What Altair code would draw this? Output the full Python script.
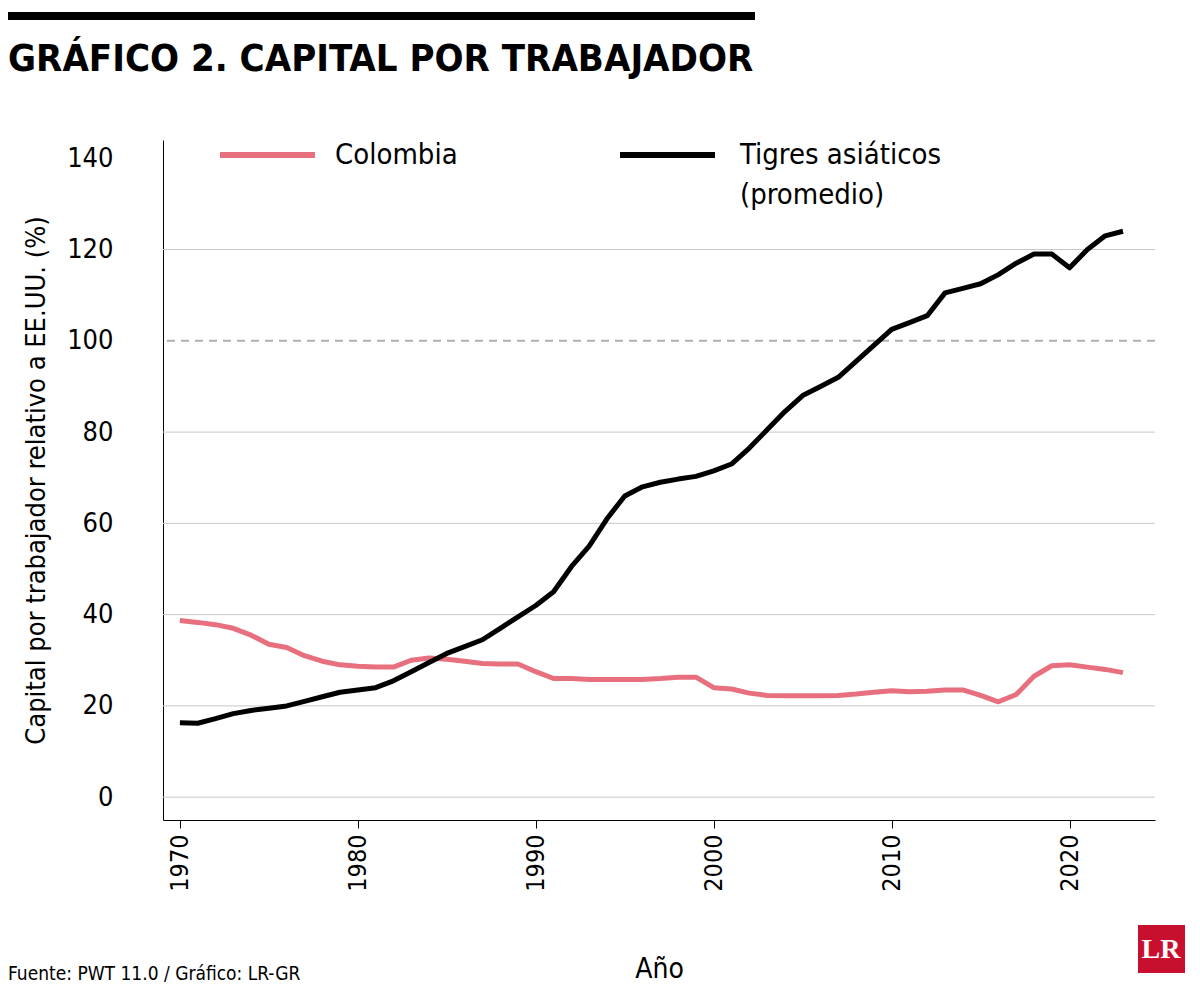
import altair as alt
import pandas as pd

years = list(range(1970, 2024))
tigres = [16.3, 16.2, 17.2, 18.3, 19.0, 19.5, 20.0, 21.0, 22.0, 23.0,
          23.5, 24.0, 25.5, 27.5, 29.5, 31.5, 33.0, 34.5, 37.0, 39.5,
          42.0, 45.0, 50.5, 55.0, 61.0, 66.0, 68.0, 69.0, 69.7, 70.3,
          71.5, 73.0, 76.5, 80.5, 84.5, 88.0, 90.0, 92.0, 95.5, 99.0,
          102.5, 104.0, 105.5, 110.5, 111.5, 112.5, 114.5, 117.0, 119.0, 119.0,
          116.0, 120.0, 123.0, 124.0]
colombia = [38.7, 38.3, 37.8, 37.0, 35.5, 33.5, 32.8, 31.0, 29.8, 29.0,
            28.7, 28.5, 28.5, 30.0, 30.5, 30.2, 29.8, 29.3, 29.2, 29.2,
            27.5, 26.0, 26.0, 25.8, 25.8, 25.8, 25.8, 26.0, 26.3, 26.3,
            24.0, 23.7, 22.8, 22.3, 22.2, 22.2, 22.2, 22.3, 22.6, 23.0,
            23.3, 23.1, 23.2, 23.5, 23.5, 22.3, 20.9, 22.5, 26.5, 28.8,
            29.0, 28.5, 28.0, 27.3]
grid_values = [0, 20, 40, 60, 80, 120]

FONT = "DejaVu Sans Condensed, Liberation Sans, sans-serif"
PINK = "#E8707E"

df = pd.DataFrame({
    "year": years * 2,
    "value": colombia + tigres,
    "serie": ["Colombia"] * len(years) + ["Tigres"] * len(years),
})

xs = alt.Scale(domain=[1969.05, 2024.8], nice=False, zero=False)
ys = alt.Scale(domain=[-5, 144], nice=False, zero=False)

grid = alt.Chart(pd.DataFrame({"y": grid_values})).mark_rule(
    color="#c8c8c8", strokeWidth=1
).encode(y=alt.Y("y:Q", scale=ys))

dashed = alt.Chart(pd.DataFrame({"y": [100]})).mark_rule(
    color="#b0b0b0", strokeWidth=2, strokeDash=[8, 6]
).encode(y=alt.Y("y:Q", scale=ys))

lines = alt.Chart(df).mark_line(strokeWidth=5, strokeJoin="round").encode(
    x=alt.X("year:Q", scale=xs, title="Año",
            axis=alt.Axis(values=[1970, 1980, 1990, 2000, 2010, 2020], format="d",
                          labelAngle=270, labelFontSize=25, labelFont=FONT,
                          labelColor="#000", titleFontSize=28, titleFont=FONT,
                          titleFontWeight="normal", titleColor="#000",
                          titlePadding=64, domainColor="#000", tickColor="#000",
                          tickSize=8, labelPadding=6, grid=False)),
    y=alt.Y("value:Q", scale=ys,
            title="Capital por trabajador relativo a EE.UU. (%)",
            axis=alt.Axis(values=[0, 20, 40, 60, 80, 100, 120, 140], labelFontSize=27,
                          labelFont=FONT, labelColor="#000", titleFontSize=27,
                          titleFont=FONT, titleFontWeight="normal", titleColor="#000",
                          domainColor="#000", ticks=False, labelPadding=50,
                          titlePadding=16, grid=False)),
    color=alt.Color("serie:N", scale=alt.Scale(domain=["Colombia", "Tigres"],
                                               range=[PINK, "#000000"]), legend=None),
)

leg = pd.DataFrame({
    "x": [57, 457], "x2": [152, 552], "y": [15, 15], "c": [PINK, "#000000"],
})
leg_lines = alt.Chart(leg).mark_rule(strokeWidth=6).encode(
    x=alt.X("x:Q", scale=None), x2="x2:Q", y=alt.Y("y:Q", scale=None),
    color=alt.Color("c:N", scale=None))

labels = pd.DataFrame({
    "x": [172, 577, 577], "y": [15, 15, 55],
    "t": ["Colombia", "Tigres asiáticos", "(promedio)"],
})
leg_text = alt.Chart(labels).mark_text(
    align="left", baseline="middle", font=FONT, fontSize=29, color="#000"
).encode(x=alt.X("x:Q", scale=None), y=alt.Y("y:Q", scale=None), text="t:N")

title = alt.Chart(pd.DataFrame({"t": ["GRÁFICO 2. CAPITAL POR TRABAJADOR"]})).mark_text(
    align="left", baseline="middle", font=FONT, fontSize=38, fontWeight="bold", color="#000"
).encode(x=alt.value(-155), y=alt.value(-80), text="t:N")

bar = alt.Chart(pd.DataFrame({"a": [0]})).mark_rule(strokeWidth=8, color="#000").encode(
    x=alt.value(-155), x2=alt.value(592), y=alt.value(-124))

source = alt.Chart(pd.DataFrame({"t": ["Fuente: PWT 11.0 / Gráfico: LR-GR"]})).mark_text(
    align="left", baseline="middle", font=FONT, fontSize=19, color="#000"
).encode(x=alt.value(-155), y=alt.value(834), text="t:N")

logo = alt.Chart(pd.DataFrame({"a": [0]})).mark_rect(color="#C8102E").encode(
    x=alt.value(975), x2=alt.value(1022), y=alt.value(785), y2=alt.value(833))
logo_t = alt.Chart(pd.DataFrame({"t": ["LR"]})).mark_text(
    font="Liberation Serif", fontSize=28, fontWeight="bold", color="#fff"
).encode(x=alt.value(998), y=alt.value(810), text="t:N")

chart = alt.layer(grid, dashed, lines, leg_lines, leg_text, title, bar, source,
                  logo, logo_t).properties(
    width=992, height=680,
    autosize=alt.AutoSizeParams(type="none"),
    padding={"left": 155, "top": 132, "right": 30, "bottom": 170},
).configure_view(stroke=None)

chart.save("out.html", embed_options={"renderer": "svg", "actions": False})
